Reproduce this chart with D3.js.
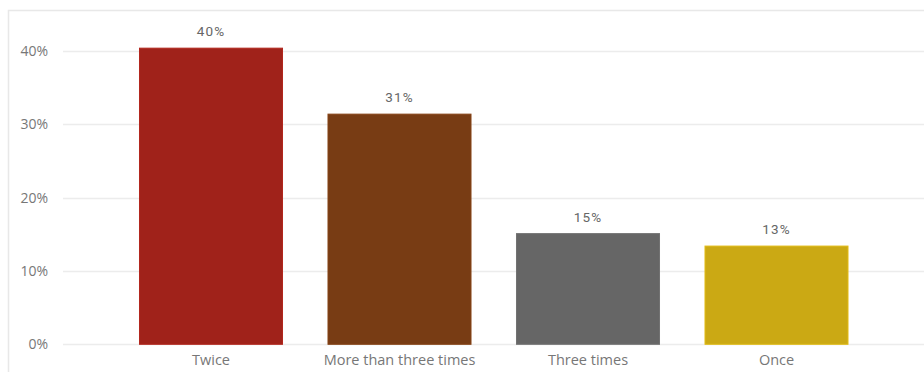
<!DOCTYPE html>
<html>
<head>
<meta charset="utf-8">
<script src="https://cdn.jsdelivr.net/npm/d3@7"></script>
<style>
  html, body { margin: 0; padding: 0; background: #fff; }
  svg { display: block; }
</style>
</head>
<body>
<svg id="chart" width="924" height="372"></svg>
<script>
// Share of respondents by frequency
const categories = ["Twice", "More than three times", "Three times", "Once"];
const shares = [0.404, 0.314, 0.151, 0.134];
const barColors = ["#A0221A", "#783C14", "#666666", "#CBA914"];
const yTicks = [0, 0.1, 0.2, 0.3, 0.4];

const W = 924, H = 372;
const svg = d3.select("#chart");

// Panel frame
svg.append("rect")
  .attr("x", 8.5).attr("y", 10.5)
  .attr("width", W).attr("height", H)
  .attr("fill", "none").attr("stroke", "#e8e8e8").attr("stroke-width", 1.5);

const plot = { left: 63, right: 924, top: 10, bottom: 344.3 };

const x = d3.scaleBand()
  .domain(categories)
  .range([116.75, 870.75])
  .paddingInner(0.236)
  .paddingOuter(0.118);

const y = d3.scaleLinear()
  .domain([0, 0.4])
  .range([plot.bottom, plot.bottom - 4 * 73.3]);

// Gridlines
svg.append("g")
  .selectAll("line")
  .data(yTicks)
  .join("line")
  .attr("x1", plot.left).attr("x2", plot.right)
  .attr("y1", d => Math.round(y(d)) + 0.5).attr("y2", d => Math.round(y(d)) + 0.5)
  .attr("stroke", "#ececec").attr("stroke-width", 1.5);

// Y axis labels
const yAxis = d3.axisLeft(y).tickValues(yTicks).tickFormat(d3.format(".0%")).tickSize(0).tickPadding(0);
svg.append("g")
  .attr("transform", "translate(48,0)")
  .call(yAxis)
  .call(g => g.select(".domain").remove())
  .call(g => g.selectAll("text")
    .attr("fill", "#777").attr("font-size", 14)
    .attr("font-family", "'Segoe UI', 'Open Sans', sans-serif"));

// Bars
svg.append("g")
  .selectAll("rect")
  .data(categories)
  .join("rect")
  .attr("x", d => x(d) + 0.5)
  .attr("y", (d, i) => y(shares[i]))
  .attr("width", x.bandwidth() - 1)
  .attr("height", (d, i) => y(0) - y(shares[i]))
  .attr("fill", (d, i) => barColors[i])
  .attr("stroke", (d, i) => d3.color(barColors[i]).brighter(0.3))
  .attr("stroke-width", 1);

// Value labels
svg.append("g")
  .selectAll("text")
  .data(categories)
  .join("text")
  .attr("x", d => x(d) + x.bandwidth() / 2)
  .attr("y", (d, i) => y(shares[i]) - 12)
  .attr("text-anchor", "middle")
  .attr("fill", "#666")
  .attr("font-size", 13.5)
  .attr("letter-spacing", 1.2)
  .attr("font-family", "Roboto, 'Liberation Sans', sans-serif")
  .text((d, i) => d3.format(".0%")(shares[i]));

// Category axis
const xAxis = d3.axisBottom(x).tickSize(0).tickPadding(0);
svg.append("g")
  .attr("transform", `translate(0,${plot.bottom + 20.5})`)
  .call(xAxis)
  .call(g => g.select(".domain").remove())
  .call(g => g.selectAll("text")
    .attr("dy", 0)
    .attr("fill", "#777").attr("font-size", 14.5)
    .attr("font-family", "'Segoe UI', 'Open Sans', sans-serif"));
</script>
</body>
</html>
